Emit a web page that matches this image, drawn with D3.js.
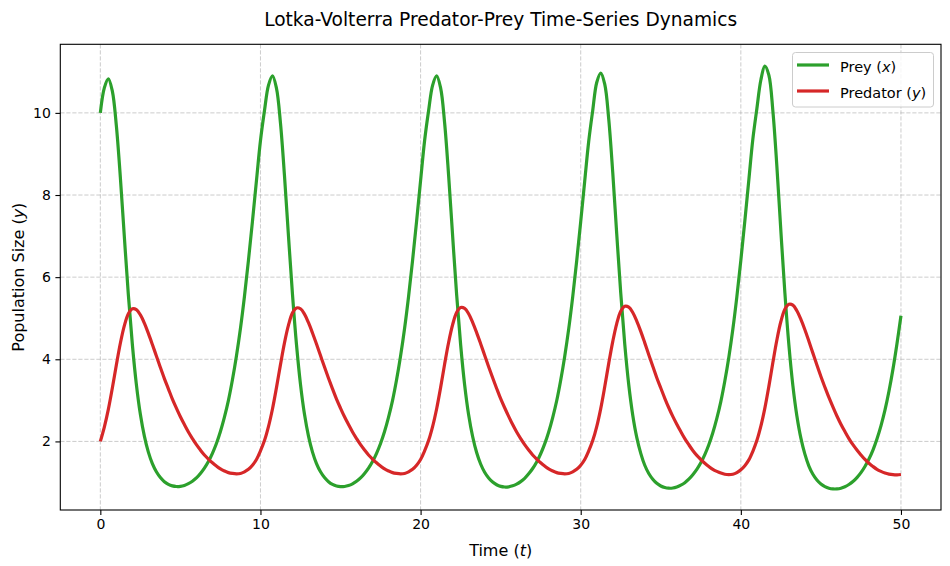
<!DOCTYPE html>
<html><head><meta charset="utf-8">
<script src="https://cdn.jsdelivr.net/npm/d3@7"></script>
<style>body{margin:0;background:#fff} text{font-family:"DejaVu Sans",sans-serif;fill:#000}</style>
</head><body><svg id="c" width="950" height="566"></svg>
<script>
const timeStep = 0.25;
const timeMax = 50;

// Prey population x(t) at t = 0, 0.25, ..., 50
const prey = [
  10.00, 10.61, 10.83, 10.53, 9.69, 8.43, 6.98, 5.57, 4.36, 3.39,
  2.66, 2.13, 1.74, 1.46, 1.26, 1.12, 1.02, 0.955, 0.917, 0.902,
  0.906, 0.929, 0.971, 1.03, 1.11, 1.22, 1.35, 1.51, 1.71, 1.95,
  2.24, 2.59, 3.00, 3.50, 4.08, 4.75, 5.53, 6.41, 7.36, 8.35, 9.32,
  10.05, 10.67, 10.90, 10.60, 9.75, 8.47, 7.00, 5.58, 4.36, 3.39,
  2.66, 2.13, 1.74, 1.46, 1.26, 1.12, 1.02, 0.953, 0.914, 0.899,
  0.903, 0.926, 0.968, 1.03, 1.11, 1.22, 1.35, 1.51, 1.71, 1.95,
  2.24, 2.59, 3.00, 3.50, 4.08, 4.75, 5.53, 6.41, 7.36, 8.35, 9.32,
  10.05, 10.67, 10.90, 10.61, 9.76, 8.48, 7.01, 5.58, 4.36, 3.38,
  2.65, 2.12, 1.73, 1.45, 1.25, 1.11, 1.01, 0.945, 0.905, 0.890,
  0.895, 0.918, 0.960, 1.02, 1.10, 1.21, 1.34, 1.50, 1.70, 1.94,
  2.23, 2.58, 2.99, 3.49, 4.07, 4.74, 5.52, 6.40, 7.35, 8.34, 9.31,
  10.06, 10.74, 10.97, 10.70, 9.85, 8.55, 7.05, 5.61, 4.37, 3.38,
  2.64, 2.10, 1.71, 1.42, 1.22, 1.08, 0.980, 0.915, 0.877, 0.861,
  0.865, 0.890, 0.935, 0.995, 1.08, 1.19, 1.32, 1.48, 1.68, 1.92,
  2.21, 2.56, 2.97, 3.47, 4.05, 4.73, 5.52, 6.41, 7.37, 8.37, 9.36,
  10.10, 10.80, 11.14, 10.92, 10.05, 8.70, 7.12, 5.62, 4.35, 3.36,
  2.62, 2.08, 1.69, 1.40, 1.20, 1.06, 0.965, 0.900, 0.860, 0.843,
  0.843, 0.860, 0.895, 0.950, 1.025, 1.12, 1.24, 1.39, 1.57, 1.79,
  2.06, 2.38, 2.76, 3.22, 3.76, 4.38, 5.06
];

// Predator population y(t), same time grid
const predator = [
  2.00, 2.35, 2.78, 3.30, 3.86, 4.39, 4.82, 5.11, 5.23, 5.21,
  5.08, 4.88, 4.63, 4.36, 4.08, 3.80, 3.53, 3.28, 3.03, 2.81,
  2.60, 2.41, 2.23, 2.07, 1.92, 1.79, 1.67, 1.57, 1.48, 1.40,
  1.33, 1.28, 1.24, 1.22, 1.21, 1.22, 1.26, 1.32, 1.42, 1.56, 1.77,
  2.02, 2.36, 2.79, 3.31, 3.87, 4.40, 4.83, 5.13, 5.25, 5.23,
  5.10, 4.89, 4.64, 4.37, 4.09, 3.81, 3.54, 3.28, 3.03, 2.81,
  2.60, 2.41, 2.23, 2.07, 1.92, 1.79, 1.67, 1.57, 1.48, 1.40,
  1.33, 1.28, 1.24, 1.22, 1.21, 1.22, 1.26, 1.32, 1.42, 1.56, 1.77,
  2.02, 2.36, 2.79, 3.31, 3.88, 4.41, 4.84, 5.14, 5.26, 5.24,
  5.11, 4.90, 4.65, 4.38, 4.10, 3.82, 3.55, 3.29, 3.04, 2.82,
  2.61, 2.41, 2.23, 2.07, 1.92, 1.79, 1.67, 1.57, 1.48, 1.40,
  1.33, 1.28, 1.24, 1.22, 1.21, 1.22, 1.26, 1.32, 1.42, 1.56, 1.77,
  2.02, 2.36, 2.80, 3.33, 3.90, 4.43, 4.87, 5.17, 5.29, 5.27,
  5.14, 4.93, 4.68, 4.40, 4.11, 3.83, 3.55, 3.30, 3.05, 2.82,
  2.61, 2.42, 2.24, 2.07, 1.92, 1.78, 1.66, 1.56, 1.47, 1.39,
  1.32, 1.27, 1.23, 1.20, 1.19, 1.20, 1.24, 1.31, 1.41, 1.55, 1.76,
  2.02, 2.37, 2.81, 3.34, 3.92, 4.47, 4.92, 5.22, 5.34, 5.32,
  5.18, 4.97, 4.72, 4.44, 4.15, 3.86, 3.58, 3.32, 3.07, 2.84,
  2.62, 2.42, 2.24, 2.07, 1.92, 1.79, 1.67, 1.56, 1.47, 1.39,
  1.32, 1.27, 1.23, 1.205, 1.19, 1.185, 1.195
];

const xTicks = [0, 10, 20, 30, 40, 50];
const yTicks = [2, 4, 6, 8, 10];
const seriesNames = ["Prey", "Predator"];
const seriesVars = ["x", "y"];
const seriesColors = ["#2ca02c", "#d62728"];
const titleText = "Lotka-Volterra Predator-Prey Time-Series Dynamics";

const time = prey.map((_, i) => i * timeStep);

const W = 950, H = 566;
const m = {left: 60.3, right: 941, top: 44.3, bottom: 510};
const svg = d3.select("#c");

const x = d3.scaleLinear().domain([-2.5, 52.5]).range([m.left, m.right]);
const y = d3.scaleLinear().domain([0.33, 11.67]).range([m.bottom, m.top]);

// Grid
const grid = svg.append("g");
grid.selectAll(".gx").data(xTicks).join("line")
  .attr("x1", d => x(d)).attr("x2", d => x(d))
  .attr("y1", m.top).attr("y2", m.bottom)
  .attr("stroke", "#b0b0b0").attr("stroke-opacity", 0.65)
  .attr("stroke-width", 1).attr("stroke-dasharray", "4.2,1.8");
grid.selectAll(".gy").data(yTicks).join("line")
  .attr("y1", d => y(d)).attr("y2", d => y(d))
  .attr("x1", m.left).attr("x2", m.right)
  .attr("stroke", "#b0b0b0").attr("stroke-opacity", 0.65)
  .attr("stroke-width", 1).attr("stroke-dasharray", "4.2,1.8");

// Lines
const series = [prey, predator];
const line = d3.line()
  .x((d, i) => x(time[i]))
  .y(d => y(d))
  .curve(d3.curveCatmullRom.alpha(0.5));
svg.append("g").selectAll("path").data(series).join("path")
  .attr("d", d => line(d))
  .attr("fill", "none")
  .attr("stroke", (d, i) => seriesColors[i])
  .attr("stroke-width", 3.2)
  .attr("stroke-linejoin", "round")
  .attr("stroke-linecap", "butt");

// Axes
const xAxis = d3.axisBottom(x).tickValues(xTicks).tickSize(4.9).tickPadding(4.5).tickFormat(d3.format("d"));
const yAxis = d3.axisLeft(y).tickValues(yTicks).tickSize(4.9).tickPadding(4.5).tickFormat(d3.format("d"));
const gx = svg.append("g").attr("transform", `translate(0,${m.bottom})`).call(xAxis);
const gy = svg.append("g").attr("transform", `translate(${m.left},0)`).call(yAxis);
[gx, gy].forEach(g => {
  g.select(".domain").remove();
  g.selectAll(".tick line").attr("stroke", "#000").attr("stroke-width", 1.1);
  g.selectAll(".tick text").attr("font-size", 14).attr("font-family", "DejaVu Sans").attr("fill", "#000");
});
gx.selectAll(".tick text").attr("dy", "0.72em");

// Frame
svg.append("rect")
  .attr("x", m.left).attr("y", m.top)
  .attr("width", m.right - m.left).attr("height", m.bottom - m.top)
  .attr("fill", "none").attr("stroke", "#000").attr("stroke-width", 1.1);

// Title
svg.append("text").attr("x", (m.left + m.right) / 2).attr("y", 26)
  .attr("text-anchor", "middle").attr("font-size", 18.6).text(titleText);

// Axis labels
function labelWithVar(sel, base, v) {
  sel.append("tspan").text(base + " (");
  sel.append("tspan").attr("font-style", "italic").text(v);
  sel.append("tspan").text(")");
}
const xl = svg.append("text").attr("x", (m.left + m.right) / 2).attr("y", 556)
  .attr("text-anchor", "middle").attr("font-size", 16);
labelWithVar(xl, "Time", "t");
const yl = svg.append("text")
  .attr("transform", `translate(24.3,${(m.top + m.bottom) / 2}) rotate(-90)`)
  .attr("text-anchor", "middle").attr("font-size", 16);
labelWithVar(yl, "Population Size", "y");

// Legend
const lg = svg.append("g");
lg.append("rect").attr("x", 792.5).attr("y", 52.5).attr("width", 141).attr("height", 54.5)
  .attr("rx", 3).attr("fill", "#fff").attr("fill-opacity", 0.8)
  .attr("stroke", "#cccccc").attr("stroke-width", 1);
seriesNames.forEach((name, i) => {
  const yy = 65 + i * 26;
  lg.append("line").attr("x1", 797).attr("x2", 829).attr("y1", yy).attr("y2", yy)
    .attr("stroke", seriesColors[i]).attr("stroke-width", 3.2);
  const t = lg.append("text").attr("x", 840).attr("y", yy + 6.5).attr("font-size", 14.5);
  labelWithVar(t, name, seriesVars[i]);
});
</script>
</body></html>
